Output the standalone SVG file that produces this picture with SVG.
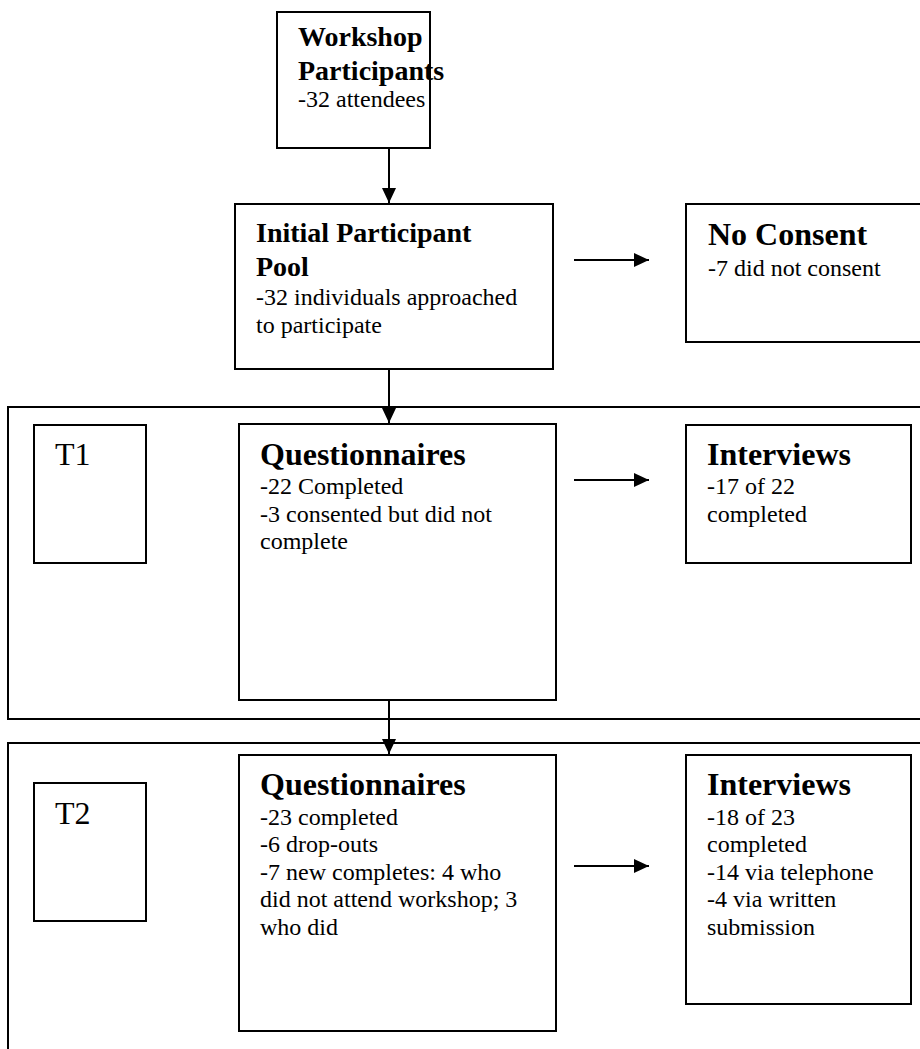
<svg xmlns="http://www.w3.org/2000/svg" width="920" height="1049" viewBox="0 0 920 1049">
<defs>
<style>
.box{fill:#fff;stroke:#000;stroke-width:2}
.frame{fill:none;stroke:#000;stroke-width:2}
.h1{font-family:"Liberation Serif","Times New Roman",serif;font-weight:bold;font-size:28px;fill:#000}
.h2{font-family:"Liberation Serif","Times New Roman",serif;font-weight:bold;font-size:32px;fill:#000}
.t{font-family:"Liberation Serif","Times New Roman",serif;font-size:24px;fill:#000}
.lab{font-family:"Liberation Serif","Times New Roman",serif;font-size:32px;fill:#000}
.ln{stroke:#000;stroke-width:2;fill:none}
</style>
<marker id="ah" markerWidth="15" markerHeight="14" refX="15" refY="7" orient="auto" markerUnits="userSpaceOnUse" viewBox="0 0 15 14">
<path d="M0,0 L15,7 L0,14 Z" fill="#000"/>
</marker>
</defs>
<g id="frames">
<rect id="T1-frame" class="frame" x="8" y="407" width="930" height="312"/>
<rect id="T2-frame" class="frame" x="8" y="743" width="930" height="330"/>
</g>
<g id="workshop">
<rect class="box" x="277" y="12" width="153" height="136"/>
<text class="h1" x="298" y="46">Workshop</text>
<text class="h1" x="298" y="80">Participants</text>
<text class="t" x="298" y="107">-32 attendees</text>
</g>
<g id="pool">
<rect class="box" x="235" y="204" width="318" height="165"/>
<text class="h1" x="256" y="242">Initial Participant</text>
<text class="h1" x="256" y="276">Pool</text>
<text class="t" x="256" y="305">-32 individuals approached</text>
<text class="t" x="256" y="333">to participate</text>
</g>
<g id="noconsent">
<rect class="box" x="686" y="204" width="260" height="138"/>
<text class="h2" x="708" y="245">No Consent</text>
<text class="t" x="708" y="276">-7 did not consent</text>
</g>
<g id="t1label">
<rect class="box" x="34" y="425" width="112" height="138"/>
<text class="lab" x="55" y="465">T1</text>
</g>
<g id="q1">
<rect class="box" x="239" y="424" width="317" height="276"/>
<text class="h2" x="260" y="465">Questionnaires</text>
<text class="t" x="260" y="494">-22 Completed</text>
<text class="t" x="260" y="522">-3 consented but did not</text>
<text class="t" x="260" y="549">complete</text>
</g>
<g id="i1">
<rect class="box" x="686" y="425" width="225" height="138"/>
<text class="h2" x="707" y="465">Interviews</text>
<text class="t" x="707" y="494">-17 of 22</text>
<text class="t" x="707" y="522">completed</text>
</g>
<g id="t2label">
<rect class="box" x="34" y="783" width="112" height="138"/>
<text class="lab" x="55" y="824">T2</text>
</g>
<g id="q2">
<rect class="box" x="239" y="755" width="317" height="276"/>
<text class="h2" x="260" y="795">Questionnaires</text>
<text class="t" x="260" y="825">-23 completed</text>
<text class="t" x="260" y="852">-6 drop-outs</text>
<text class="t" x="260" y="880">-7 new completes: 4 who</text>
<text class="t" x="260" y="907">did not attend workshop; 3</text>
<text class="t" x="260" y="935">who did</text>
</g>
<g id="i2">
<rect class="box" x="686" y="755" width="225" height="249"/>
<text class="h2" x="707" y="795">Interviews</text>
<text class="t" x="707" y="825">-18 of 23</text>
<text class="t" x="707" y="852">completed</text>
<text class="t" x="707" y="880">-14 via telephone</text>
<text class="t" x="707" y="907">-4 via written</text>
<text class="t" x="707" y="935">submission</text>
</g>
<g id="connectors">
<line class="ln" x1="389" y1="148" x2="389" y2="203" marker-end="url(#ah)"/>
<line class="ln" x1="389" y1="369" x2="389" y2="423" marker-end="url(#ah)"/>
<line class="ln" x1="389" y1="700" x2="389" y2="754" marker-end="url(#ah)"/>
<line class="ln" x1="574" y1="260" x2="649" y2="260" marker-end="url(#ah)"/>
<line class="ln" x1="574" y1="480" x2="649" y2="480" marker-end="url(#ah)"/>
<line class="ln" x1="574" y1="866" x2="649" y2="866" marker-end="url(#ah)"/>
</g>
</svg>
